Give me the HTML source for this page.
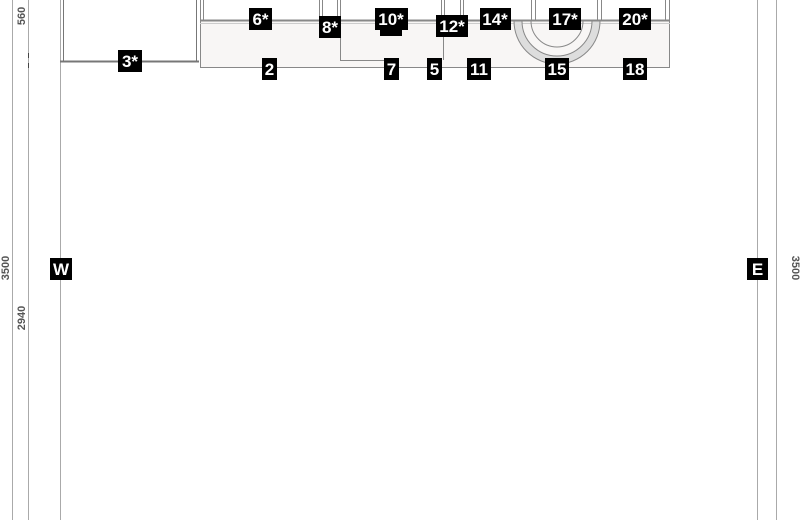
<!DOCTYPE html>
<html><head><style>
html,body{margin:0;padding:0;background:#fff;width:800px;height:520px;overflow:hidden}
svg{display:block}
text{font-family:"Liberation Sans",sans-serif;font-weight:bold}
</style></head><body>
<svg width="800" height="520" viewBox="0 0 800 520">
<g stroke="#aaa" stroke-width="1" fill="none">
<line x1="12.5" y1="0" x2="12.5" y2="520"/>
<line x1="28.5" y1="0" x2="28.5" y2="520"/>
<line x1="60.5" y1="0" x2="60.5" y2="520"/>
<line x1="757.5" y1="0" x2="757.5" y2="520"/>
<line x1="776.5" y1="0" x2="776.5" y2="520"/>
</g>
<g stroke="#444"><line x1="28.5" y1="53" x2="28.5" y2="58"/><line x1="28.5" y1="63" x2="28.5" y2="68"/></g>
<g stroke="#777" fill="none">
<line x1="63.5" y1="0" x2="63.5" y2="62"/>
<line x1="196.5" y1="0" x2="196.5" y2="62"/>
<line x1="60" y1="61.5" x2="199" y2="61.5" stroke-width="2"/>
</g>
<rect x="200" y="21" width="470" height="47" fill="#f8f6f5"/>
<g stroke="#888" fill="none">
<line x1="200.5" y1="0" x2="200.5" y2="68"/>
<line x1="203.5" y1="0" x2="203.5" y2="20"/>
<line x1="200" y1="67.5" x2="670" y2="67.5"/>
<line x1="669.5" y1="0" x2="669.5" y2="68"/>
<line x1="200" y1="20.5" x2="670" y2="20.5" stroke-width="2"/>
<line x1="200" y1="23.5" x2="670" y2="23.5" stroke="#ccc"/>
<line x1="319.5" y1="0" x2="319.5" y2="20"/>
<line x1="322.5" y1="0" x2="322.5" y2="20"/>
<line x1="337.5" y1="0" x2="337.5" y2="20"/>
<line x1="340.5" y1="0" x2="340.5" y2="61"/>
<line x1="340" y1="60.5" x2="390" y2="60.5"/>
<line x1="441.5" y1="0" x2="441.5" y2="20"/>
<line x1="443.5" y1="24" x2="443.5" y2="60"/>
<line x1="444.5" y1="0" x2="444.5" y2="20"/>
<line x1="460.5" y1="0" x2="460.5" y2="20"/>
<line x1="463.5" y1="0" x2="463.5" y2="20"/>
<line x1="531.5" y1="0" x2="531.5" y2="20"/>
<line x1="535.5" y1="0" x2="535.5" y2="20"/>
<line x1="597.5" y1="0" x2="597.5" y2="20"/>
<line x1="601.5" y1="0" x2="601.5" y2="20"/>
<line x1="665.5" y1="0" x2="665.5" y2="20"/>
</g>
<path d="M514 21 A43 43 0 0 0 600 21 L592 21 A35 35 0 0 1 522 21 Z" fill="#ddd" stroke="#888"/>
<path d="M531 21 A26 26 0 0 0 583 21" fill="none" stroke="#888"/>
<g fill="#000">
<rect x="118" y="50" width="24" height="22"/>
<rect x="249" y="8" width="23" height="22"/>
<rect x="319" y="16" width="22" height="22"/>
<rect x="380" y="26" width="22" height="10"/>
<rect x="375" y="8" width="33" height="22"/>
<rect x="436" y="15" width="32" height="22"/>
<rect x="480" y="8" width="31" height="22"/>
<rect x="549" y="8" width="32" height="22"/>
<rect x="619" y="8" width="32" height="22"/>
<rect x="262" y="58" width="15" height="22"/>
<rect x="384" y="58" width="15" height="22"/>
<rect x="427" y="58" width="15" height="22"/>
<rect x="467" y="58" width="24" height="22"/>
<rect x="545" y="58" width="24" height="22"/>
<rect x="623" y="58" width="24" height="22"/>
<rect x="50" y="258" width="22" height="22"/>
<rect x="747" y="258" width="21" height="22"/>
</g>
<g fill="#fff" font-size="17" text-anchor="middle">
<text x="130" y="67">3*</text>
<text x="260.5" y="25">6*</text>
<text x="330" y="33">8*</text>
<text x="391" y="25">10*</text>
<text x="452" y="32">12*</text>
<text x="495" y="25">14*</text>
<text x="565" y="25">17*</text>
<text x="635" y="25">20*</text>
<text x="269.5" y="75">2</text>
<text x="391.5" y="75">7</text>
<text x="434.5" y="75">5</text>
<text x="479" y="75">11</text>
<text x="557" y="75">15</text>
<text x="635" y="75">18</text>
<text x="61" y="275">W</text>
<text x="757.5" y="275">E</text>
</g>
<g fill="#555" font-size="11" style="font-weight:normal" text-anchor="middle">
<text transform="translate(25,16) rotate(-90)">560</text>
<text transform="translate(9,268) rotate(-90)">3500</text>
<text transform="translate(25,318) rotate(-90)">2940</text>
<text transform="translate(792,268) rotate(90)">3500</text>
</g>
</svg>
</body></html>
